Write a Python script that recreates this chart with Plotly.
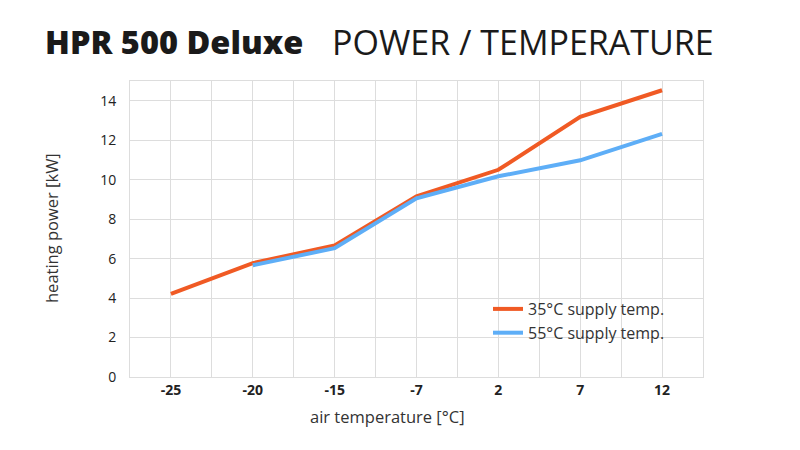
import plotly.graph_objects as go

categories = ["-25", "-20", "-15", "-7", "2", "7", "12"]
supply35 = [4.21, 5.77, 6.67, 9.15, 10.5, 13.18, 14.53]
supply55 = [None, 5.66, 6.53, 9.05, 10.17, 10.98, 12.32]
y_ticks = [0, 2, 4, 6, 8, 10, 12, 14]

FONT = "Open Sans"
ORANGE = "#f05a24"
BLUE = "#5eaef7"

W, H = 800, 450
OFF = 8  # page body margin
L, R, T, B = 130 - OFF, W - (703 - OFF), 81 - OFF, H - (377 - OFF)
PW, PH = W - L - R, H - T - B


def px(xp):
    return (xp - OFF - L) / PW


def py(yp):
    return (H - (yp - OFF) - B) / PH


xi = list(range(len(categories)))
fig = go.Figure()
fig.add_trace(go.Scatter(x=xi, y=supply35, mode="lines", name="35°C supply temp.",
                         line=dict(color=ORANGE, width=4), connectgaps=False))
fig.add_trace(go.Scatter(x=xi, y=supply55, mode="lines", name="55°C supply temp.",
                         line=dict(color=BLUE, width=4), connectgaps=False))

half_vals = [i * 0.5 - 0.5 for i in range(2 * len(categories) + 1)]
half_text = []
for v in half_vals:
    if v >= 0 and float(v).is_integer():
        half_text.append("<b>" + categories[int(v)] + "</b>")
    else:
        half_text.append("")

fig.update_layout(
    width=W, height=H,
    margin=dict(l=L, r=R, t=T, b=B),
    paper_bgcolor="white", plot_bgcolor="white",
    font=dict(family=FONT, color="#222222", size=13),
    showlegend=True,
    legend=dict(x=px(488), y=py(292), xanchor="left", yanchor="top",
                bgcolor="rgba(0,0,0,0)", font=dict(size=16, color="#333333"),
                tracegroupgap=0, itemwidth=30),
    xaxis=dict(range=[-0.5, len(categories) - 0.5], tickmode="array",
               tickvals=half_vals, ticktext=half_text, showgrid=True,
               gridcolor="#dddddd", gridwidth=1, zeroline=False,
               showline=True, linecolor="#dddddd", mirror=True,
               ticks="", tickfont=dict(size=14, color="#222222")),
    yaxis=dict(range=[0, 15], tickmode="array", tickvals=y_ticks,
               showgrid=True, gridcolor="#dddddd", gridwidth=1,
               zeroline=False, showline=True, linecolor="#dddddd", mirror=True,
               ticks="outside", ticklen=10, tickcolor="rgba(0,0,0,0)",
               tickfont=dict(size=14, color="#222222", weight=500)),
)

fig.add_annotation(text="HPR 500 Deluxe", x=px(43), y=py(42), xref="paper", yref="paper",
                   showarrow=False, xanchor="left", yanchor="middle",
                   font=dict(family=FONT, size=32.5, color="#1a1a1a", weight=800))
fig.add_annotation(text="POWER / TEMPERATURE", x=px(330), y=py(42), xref="paper", yref="paper",
                   showarrow=False, xanchor="left", yanchor="middle",
                   font=dict(family=FONT, size=34, color="#1a1a1a", weight=400))
fig.add_annotation(text="air temperature [°C]", x=px(387), y=py(416), xref="paper", yref="paper",
                   showarrow=False, xanchor="center", yanchor="middle",
                   font=dict(family=FONT, size=16.5, color="#333333"))
fig.add_annotation(text="heating power [kW]", x=px(51), y=py(228), xref="paper", yref="paper",
                   showarrow=False, xanchor="center", yanchor="middle", textangle=-90,
                   font=dict(family=FONT, size=16.5, color="#333333"))

fig.write_html("out.html")
